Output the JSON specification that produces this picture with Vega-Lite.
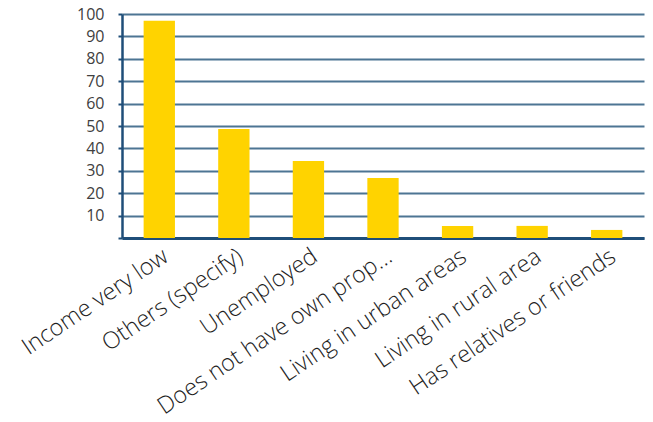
{
  "$schema": "https://vega.github.io/schema/vega-lite/v6.json",
  "width": 522,
  "height": 224,
  "autosize": {"type": "none"},
  "padding": {"left": 122, "top": 14, "right": 9, "bottom": 184},
  "background": "white",
  "data": {
    "values": [
      {"reason": "Income very low", "value": 97},
      {"reason": "Others (specify)", "value": 48.7},
      {"reason": "Unemployed", "value": 34.4},
      {"reason": "Does not have own prop…", "value": 26.8},
      {"reason": "Living in urban areas", "value": 5.4},
      {"reason": "Living in rural area", "value": 5.4},
      {"reason": "Has relatives or friends", "value": 3.6}
    ]
  },
  "mark": {"type": "bar", "color": "#FFD300"},
  "encoding": {
    "x": {
      "field": "reason",
      "type": "nominal",
      "sort": null,
      "scale": {"paddingInner": 0.58, "paddingOuter": 0.29},
      "axis": {
        "title": null,
        "labelAngle": -34,
        "labelFont": "Open Sans",
        "labelFontWeight": 300,
        "labelFontSize": 23.5,
        "labelColor": "#1F1F1F",
        "labelPadding": 6,
        "ticks": false,
        "domainColor": "#1F4E79",
        "domainWidth": 3,
        "labelLimit": 400
      }
    },
    "y": {
      "field": "value",
      "type": "quantitative",
      "scale": {"domain": [0, 100], "nice": false},
      "axis": {
        "title": null,
        "values": [0, 10, 20, 30, 40, 50, 60, 70, 80, 90, 100],
        "labelExpr": "datum.value == 0 ? '' : datum.label",
        "labelFont": "Open Sans",
        "labelFontSize": 16,
        "labelColor": "#404040",
        "labelPadding": 14,
        "tickColor": "#1F4E79",
        "tickSize": 4,
        "tickWidth": 2,
        "domainColor": "#1F4E79",
        "domainWidth": 2.5,
        "grid": true,
        "gridColor": "#4D7593",
        "gridWidth": 2,
        "gridOpacity": 1
      }
    }
  },
  "config": {"view": {"stroke": null}}
}
